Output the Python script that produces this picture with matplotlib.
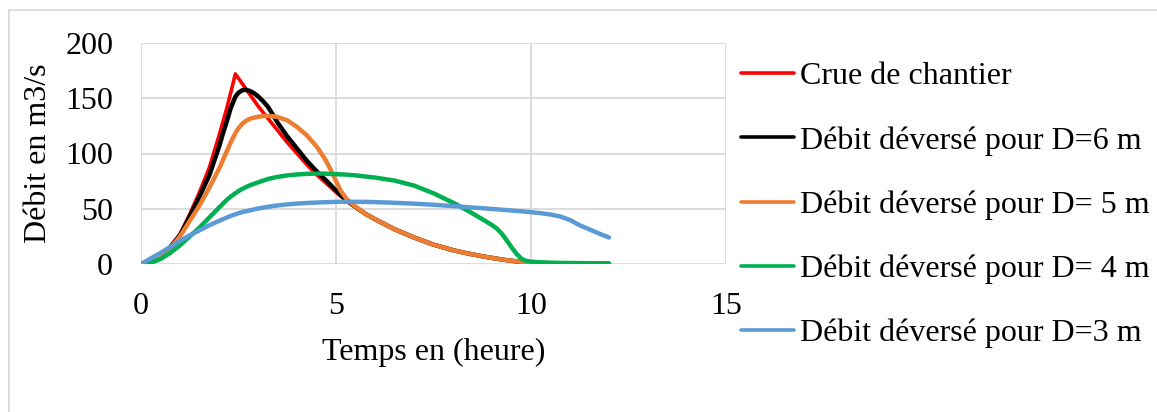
import matplotlib
matplotlib.use("Agg")
import matplotlib.pyplot as plt
from matplotlib.patches import Rectangle

plt.rcParams['font.family'] = ['Liberation Serif', 'DejaVu Serif']
plt.rcParams['font.size'] = 23

# Time (hours)
temps = [0, 0.25, 0.5, 0.75, 1.0, 1.25, 1.5, 1.75,
         2.0, 2.1, 2.2, 2.3, 2.42, 2.5, 2.6, 2.7, 2.8, 2.9,
         3.0, 3.125, 3.25, 3.375, 3.5, 3.75,
         4.0, 4.25, 4.5, 4.625, 4.75, 4.875,
         5.0, 5.125, 5.25, 5.375, 5.5, 5.75,
         6.0, 6.5, 7.0, 7.5,
         8.0, 8.25, 8.5, 8.75,
         9.0, 9.125, 9.25, 9.375, 9.5, 9.625, 9.75, 9.875,
         10.0, 10.25, 10.5, 10.75,
         11.0, 11.25, 11.5, 11.75, 12.0]

# Discharges (m3/s)
crue = [0, 2, 7, 16, 27, 45, 65, 87,
        116, 128.5, 141, 155, 172, 168, 163, 158, 153, 148,
        143, 137.5, 132, 126.5, 121, 110,
        100, 90, 81, 77, 73, 69,
        65, 61.3, 58, 54.8, 51.5, 45.5,
        40.5, 31.5, 24, 17.5,
        12.5, 10.5, 8.7, 7,
        5.5, 4.8, 4.1, 3.5, 2.9, 2.4, 1.9, 1.5,
        1.2, 0.9, 0.7, 0.6,
        0.5, 0.45, 0.4, 0.35, 0.3]
d6 = [0, 2, 6.5, 15, 26, 43, 61, 80,
      106, 118, 129, 141, 151.5, 155, 157.3, 157.6, 156.5, 154.5,
      151.8, 147.5, 142.5, 135.5, 128, 115.5,
      104.5, 93.5, 84, 79.8, 75.5, 71,
      66.5, 62.2, 58.3, 54.8, 51.5, 45.5,
      40.5, 31.5, 24, 17.5,
      12.5, 10.5, 8.7, 7,
      5.5, 4.8, 4.1, 3.5, 2.9, 2.4, 1.9, 1.5,
      1.2, 0.9, 0.7, 0.6,
      0.5, 0.45, 0.4, 0.35, 0.3]
d5 = [0, 2, 6.5, 14.5, 25, 39, 53, 69,
      86, 94, 102, 110, 118.5, 123, 127, 129.8, 131.5, 132.5,
      133.2, 133.8, 134, 133.8, 133, 130,
      124, 116.5, 106.5, 100, 93, 84.5,
      75, 66, 60, 55.5, 51.8, 45.5,
      40.5, 31.5, 24, 17.5,
      12.5, 10.5, 8.7, 7,
      5.5, 4.8, 4.1, 3.5, 2.9, 2.4, 1.9, 1.5,
      1.2, 0.9, 0.7, 0.6,
      0.5, 0.45, 0.4, 0.35, 0.3]
d4 = [0, 1, 4.5, 10, 17, 25, 33, 42,
      51, 54.5, 58, 61, 64, 66, 68, 69.8, 71.3, 72.6,
      73.8, 75.4, 76.8, 77.9, 78.8, 80.2,
      81, 81.6, 81.8, 81.8, 81.7, 81.5,
      81.3, 81.1, 80.9, 80.6, 80.2, 79.2,
      78.2, 75.5, 71, 64,
      55.5, 50.8, 45.8, 40.6,
      35.2, 32, 27.5, 21.5, 15.2, 9.4, 4.9, 2.8,
      2.1, 1.5, 1.2, 1.0,
      0.9, 0.8, 0.7, 0.6, 0.5]
d3 = [0, 5, 10, 15.5, 21, 26, 30.5, 35,
      39, 40.5, 42, 43.5, 45, 46, 47, 47.8, 48.6, 49.4,
      50.2, 51, 51.7, 52.4, 53, 54,
      54.7, 55.2, 55.6, 55.8, 56, 56.1,
      56.2, 56.3, 56.3, 56.3, 56.3, 56.2,
      56, 55.4, 54.6, 53.6,
      52.4, 51.8, 51.1, 50.5,
      49.8, 49.5, 49.1, 48.8, 48.4, 48, 47.7, 47.3,
      46.9, 46, 44.8, 43,
      39.8, 35, 31.3, 27.5, 24]

series = [
    ("Crue de chantier", crue, "#FF0000", 2.6),
    ("Débit déversé pour D=6 m", d6, "#000000", 3.2),
    ("Débit déversé pour D= 5 m", d5, "#ED7D31", 3.2),
    ("Débit déversé pour D= 4 m", d4, "#00B050", 3.2),
    ("Débit déversé pour D=3 m", d3, "#5B9BD5", 3.2),
]

W, H = 1157, 412
fig = plt.figure(figsize=(W / 100, H / 100), dpi=100)

# chart frame
fig.patches.append(Rectangle((9 / W, -0.1), 1.2, 1 - 10 / H + 0.1,
                             transform=fig.transFigure, fill=False,
                             edgecolor="#D9D9D9", linewidth=1.2))

ax = fig.add_axes([141 / W, 1 - 264 / H, 585 / W, 221 / H])
for label, vals, color, lw in series:
    ax.plot(temps, vals, color=color, lw=lw, label=label,
            solid_joinstyle="round", solid_capstyle="round")

ax.set_xlim(0, 15)
ax.set_ylim(0, 200)
ax.set_xticks([0, 5, 10, 15])
ax.set_yticks([0, 50, 100, 150, 200])
ax.grid(True, color="#D9D9D9", lw=1.3)
ax.set_axisbelow(True)
for s in ax.spines.values():
    s.set_visible(False)
ax.tick_params(length=0, pad=20, labelsize=23)
ax.set_xlabel("Temps en (heure)", labelpad=12)
ax.set_ylabel("Débit en m3/s", labelpad=9)

leg = fig.legend(loc="upper left", bbox_to_anchor=(741 / W, 1 - 62 / H),
                 frameon=False, borderpad=0, borderaxespad=0,
                 handlelength=1.65, handletextpad=0.2,
                 labelspacing=1.085, fontsize=23)
for line in leg.get_lines():
    line.set_linewidth(2.6)

fig.savefig("out.png", dpi=100)
